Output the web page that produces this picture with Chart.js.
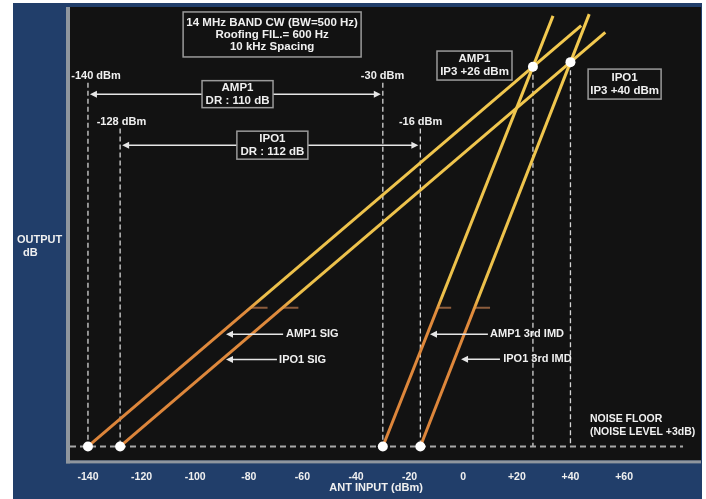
<!DOCTYPE html>
<html>
<head>
<meta charset="utf-8">
<script src="https://cdn.jsdelivr.net/npm/chart.js@4.4.1/dist/chart.umd.min.js"></script>
<style>
  html, body { margin: 0; padding: 0; background: #ffffff; }
  #wrap { width: 706px; height: 499px; }
</style>
</head>
<body>
<div id="wrap"><canvas id="chart" width="706" height="499"></canvas></div>
<script>
// values: x = ANT INPUT (dBm), y = OUTPUT (dB), noise floor put at -140
const noiseFloor = -140;
const seriesNames = ["AMP1 SIG", "IPO1 SIG", "AMP1 3rd IMD", "IPO1 3rd IMD"];
const lineStartX = [-140, -128, -30, -16];
const lineEndX = [44, 53, 33.5, 47];
const lineEndY = [44, 41, 48.2, 49];

const ip3Names = ["AMP1", "IPO1"];
const ip3X = [26, 40];
const ip3Y = [26, 28];

const drNames = ["AMP1", "IPO1"];
const drValues = [110, 112];
const mdsX = [-140, -128];
const imdX = [-30, -16];
const guideTopY = [19, -1];

// short level marks where the lines turn from orange to yellow
const markY = -79.4;
const markStartX = [-79.4, -67.4, -9.5, 4.2];
const markEndX = [-73, -61.5, -4.5, 10];

const xTicks = [-140, -120, -100, -80, -60, -40, -20, 0, 20, 40, 60];

const FONT = '"Liberation Sans", Arial, sans-serif';
const WHITE = "#f0f0f0";
const ORANGE = "#e08a3c";
const YELLOW = "#f0c54a";

// where the text pieces sit, in data units
const drLayout = [
  { y: 14, boxX: -84.2, w: 71, h: 27 },
  { y: -8.3, boxX: -71.2, w: 71, h: 28 },
];
const ip3Layout = [
  { x: 4.2, y: 26.5, w: 75, h: 29 },
  { x: 60.2, y: 18.4, w: 73, h: 30 },
];
const dbmLabelX = [-137, -127.5, -30.1, -15.9];
const sigLayout = [
  { tip: -88.5, tail: -67.2, text: -66.1, y: -91 },
  { tip: -88.5, tail: -69.5, text: -68.7, y: -102 },
  { tip: -12.4, tail: 9.2, text: 10, y: -91 },
  { tip: -0.8, tail: 13.7, text: 14.9, y: -101.9 },
];

const lineColor = (context) => {
  const chart = context.chart;
  const area = chart.chartArea;
  if (!area) return YELLOW;
  const yMid = chart.scales.y.getPixelForValue(markY);
  const g = chart.ctx.createLinearGradient(0, area.bottom, 0, area.top);
  const t = (area.bottom - yMid) / (area.bottom - area.top);
  g.addColorStop(0, "#dc843a");
  g.addColorStop(t - 0.01, ORANGE);
  g.addColorStop(t + 0.025, "#ecc04a");
  g.addColorStop(1, "#f3ca50");
  return g;
};

const drawBox = (ctx, cx, cy, w, h) => {
  ctx.fillStyle = "#121212";
  ctx.fillRect(cx - w / 2, cy - h / 2, w, h);
  ctx.strokeStyle = "#9a9a9a";
  ctx.lineWidth = 1.5;
  ctx.strokeRect(cx - w / 2, cy - h / 2, w, h);
};

const drawText = (ctx, txt, x, y, align, size) => {
  ctx.fillStyle = WHITE;
  ctx.font = "bold " + (size || 11) + "px " + FONT;
  ctx.textAlign = align || "center";
  ctx.textBaseline = "middle";
  ctx.fillText(txt, x, y);
};

const drawHead = (ctx, tipX, y, dir) => {
  ctx.beginPath();
  ctx.moveTo(tipX, y);
  ctx.lineTo(tipX + dir * 7, y - 3.5);
  ctx.lineTo(tipX + dir * 7, y + 3.5);
  ctx.closePath();
  ctx.fill();
};

const hLine = (ctx, x1, x2, y) => {
  ctx.beginPath();
  ctx.moveTo(x1, y);
  ctx.lineTo(x2, y);
  ctx.stroke();
};

const backdrop = {
  id: "backdrop",
  beforeDraw(chart) {
    const ctx = chart.ctx;
    const a = chart.chartArea;
    ctx.save();
    ctx.fillStyle = "#ffffff";
    ctx.fillRect(0, 0, chart.width, chart.height);
    ctx.fillStyle = "#213e6a";
    ctx.fillRect(13, 3, 689, chart.height - 3);
    ctx.fillStyle = "#121212";
    ctx.fillRect(a.left, a.top, a.right - a.left, a.bottom - a.top);
    ctx.fillStyle = "#8f969e";
    ctx.fillRect(a.left - 4, a.top, 4, a.bottom - a.top + 3);
    ctx.fillRect(a.left - 4, a.bottom, a.right - a.left + 4, 3);
    // axis names
    drawText(ctx, "OUTPUT", 17, 240, "left", 11);
    drawText(ctx, "dB", 23, 253, "left", 11);
    drawText(ctx, "ANT INPUT (dBm)", chart.scales.x.getPixelForValue(-32.5), a.bottom + 28, "center", 11);
    ctx.restore();
  },
  beforeDatasetsDraw(chart) {
    const ctx = chart.ctx;
    const X = (v) => chart.scales.x.getPixelForValue(v);
    const Y = (v) => chart.scales.y.getPixelForValue(v);
    ctx.save();
    // dashed guides
    ctx.strokeStyle = "#d4d4d4";
    ctx.lineWidth = 1.3;
    ctx.setLineDash([5, 3]);
    const guides = [];
    mdsX.forEach((x, i) => guides.push([x, guideTopY[i]]));
    imdX.forEach((x, i) => guides.push([x, guideTopY[i]]));
    ip3X.forEach((x, i) => guides.push([x, ip3Y[i]]));
    guides.forEach(([x, top]) => {
      ctx.beginPath();
      ctx.moveTo(X(x), Y(top));
      ctx.lineTo(X(x), Y(noiseFloor));
      ctx.stroke();
    });
    // noise floor
    ctx.strokeStyle = "#a8a8a8";
    ctx.lineWidth = 2;
    ctx.setLineDash([6, 4]);
    hLine(ctx, chart.chartArea.left, X(82), Y(noiseFloor));
    ctx.restore();
  },
  afterDatasetsDraw(chart) {
    const ctx = chart.ctx;
    const X = (v) => chart.scales.x.getPixelForValue(v);
    const Y = (v) => chart.scales.y.getPixelForValue(v);
    ctx.save();

    // dynamic range brackets
    drNames.forEach((name, i) => {
      const y = Y(drLayout[i].y);
      const x1 = X(mdsX[i]) + 2;
      const x2 = X(imdX[i]) - 2;
      ctx.strokeStyle = "#e6e6e6";
      ctx.fillStyle = "#e6e6e6";
      ctx.lineWidth = 1.5;
      hLine(ctx, x1 + 4, x2 - 4, y);
      drawHead(ctx, x1, y, 1);
      drawHead(ctx, x2, y, -1);
      const bx = X(drLayout[i].boxX);
      drawBox(ctx, bx, y, drLayout[i].w, drLayout[i].h);
      drawText(ctx, name, bx, y - 6.5, "center", 11.5);
      drawText(ctx, "DR : " + drValues[i] + " dB", bx, y + 6.5, "center", 11.5);
    });

    // dBm labels above the guides
    [...mdsX, ...imdX].forEach((x, i) => {
      const top = guideTopY[i % 2];
      drawText(ctx, x + " dBm", X(dbmLabelX[i]), Y(top) - 7, "center", 11);
    });

    // title box
    const tx = X(-71.3), ty = Y(40.1);
    drawBox(ctx, tx, ty, 178, 45);
    drawText(ctx, "14 MHz BAND CW (BW=500 Hz)", tx, ty - 12, "center", 11.5);
    drawText(ctx, "Roofing FIL.= 600 Hz", tx, ty, "center", 11.5);
    drawText(ctx, "10 kHz Spacing", tx, ty + 12, "center", 11.5);

    // IP3 boxes
    ip3Names.forEach((name, i) => {
      const l = ip3Layout[i];
      const bx = X(l.x), by = Y(l.y);
      drawBox(ctx, bx, by, l.w, l.h);
      drawText(ctx, name, bx, by - 6.5, "center", 11.5);
      drawText(ctx, "IP3 +" + ip3X[i] + " dBm", bx, by + 6.5, "center", 11.5);
    });

    // line callouts
    seriesNames.forEach((name, i) => {
      const l = sigLayout[i];
      const y = Y(l.y);
      ctx.strokeStyle = "#e6e6e6";
      ctx.fillStyle = "#e6e6e6";
      ctx.lineWidth = 1.5;
      hLine(ctx, X(l.tip) + 5, X(l.tail), y);
      drawHead(ctx, X(l.tip), y, 1);
      drawText(ctx, name, X(l.text), y, "left", 11);
    });

    drawText(ctx, "NOISE FLOOR", X(47.3), Y(-128.2), "left", 10.5);
    drawText(ctx, "(NOISE LEVEL +3dB)", X(47.3), Y(-133.9), "left", 10.5);
    ctx.restore();
  },
};

const datasets = [];
// white dots: where the lines leave the noise floor, and the intercept points
datasets.push({
  type: "scatter",
  data: lineStartX.map((x) => ({ x: x, y: noiseFloor }))
    .concat(ip3X.map((x, i) => ({ x: x, y: ip3Y[i] }))),
  pointRadius: 5,
  pointBackgroundColor: "#ffffff",
  pointBorderWidth: 0,
  showLine: false,
});
seriesNames.forEach((name, i) => {
  datasets.push({
    label: name,
    data: [
      { x: lineStartX[i], y: noiseFloor },
      { x: lineEndX[i], y: lineEndY[i] },
    ],
    borderColor: lineColor,
    borderWidth: 3,
    pointRadius: 0,
    tension: 0,
  });
});
markStartX.forEach((x, i) => {
  datasets.push({
    data: [
      { x: x, y: markY },
      { x: markEndX[i], y: markY },
    ],
    borderColor: "#8c5c3c",
    borderWidth: 2,
    pointRadius: 0,
  });
});

new Chart(document.getElementById("chart"), {
  type: "line",
  data: { datasets: datasets },
  options: {
    responsive: false,
    devicePixelRatio: 1,
    animation: false,
    layout: { padding: { left: 70, top: 7, right: 5, bottom: 6 } },
    plugins: { legend: { display: false }, tooltip: { enabled: false } },
    scales: {
      x: {
        type: "linear",
        min: -146.7,
        max: 88.7,
        grid: { display: false, drawTicks: false },
        border: { display: false },
        afterBuildTicks: (scale) => {
          scale.ticks = xTicks.map((v) => ({ value: v }));
        },
        ticks: {
          autoSkip: false,
          maxRotation: 0,
          padding: 10,
          color: WHITE,
          font: { family: FONT, size: 10.5, weight: "bold" },
          callback: (v) => (v > 0 ? "+" + v : String(v)),
        },
      },
      y: {
        type: "linear",
        display: false,
        min: -146.1,
        max: 52.1,
      },
    },
  },
  plugins: [backdrop],
});
</script>
</body>
</html>
